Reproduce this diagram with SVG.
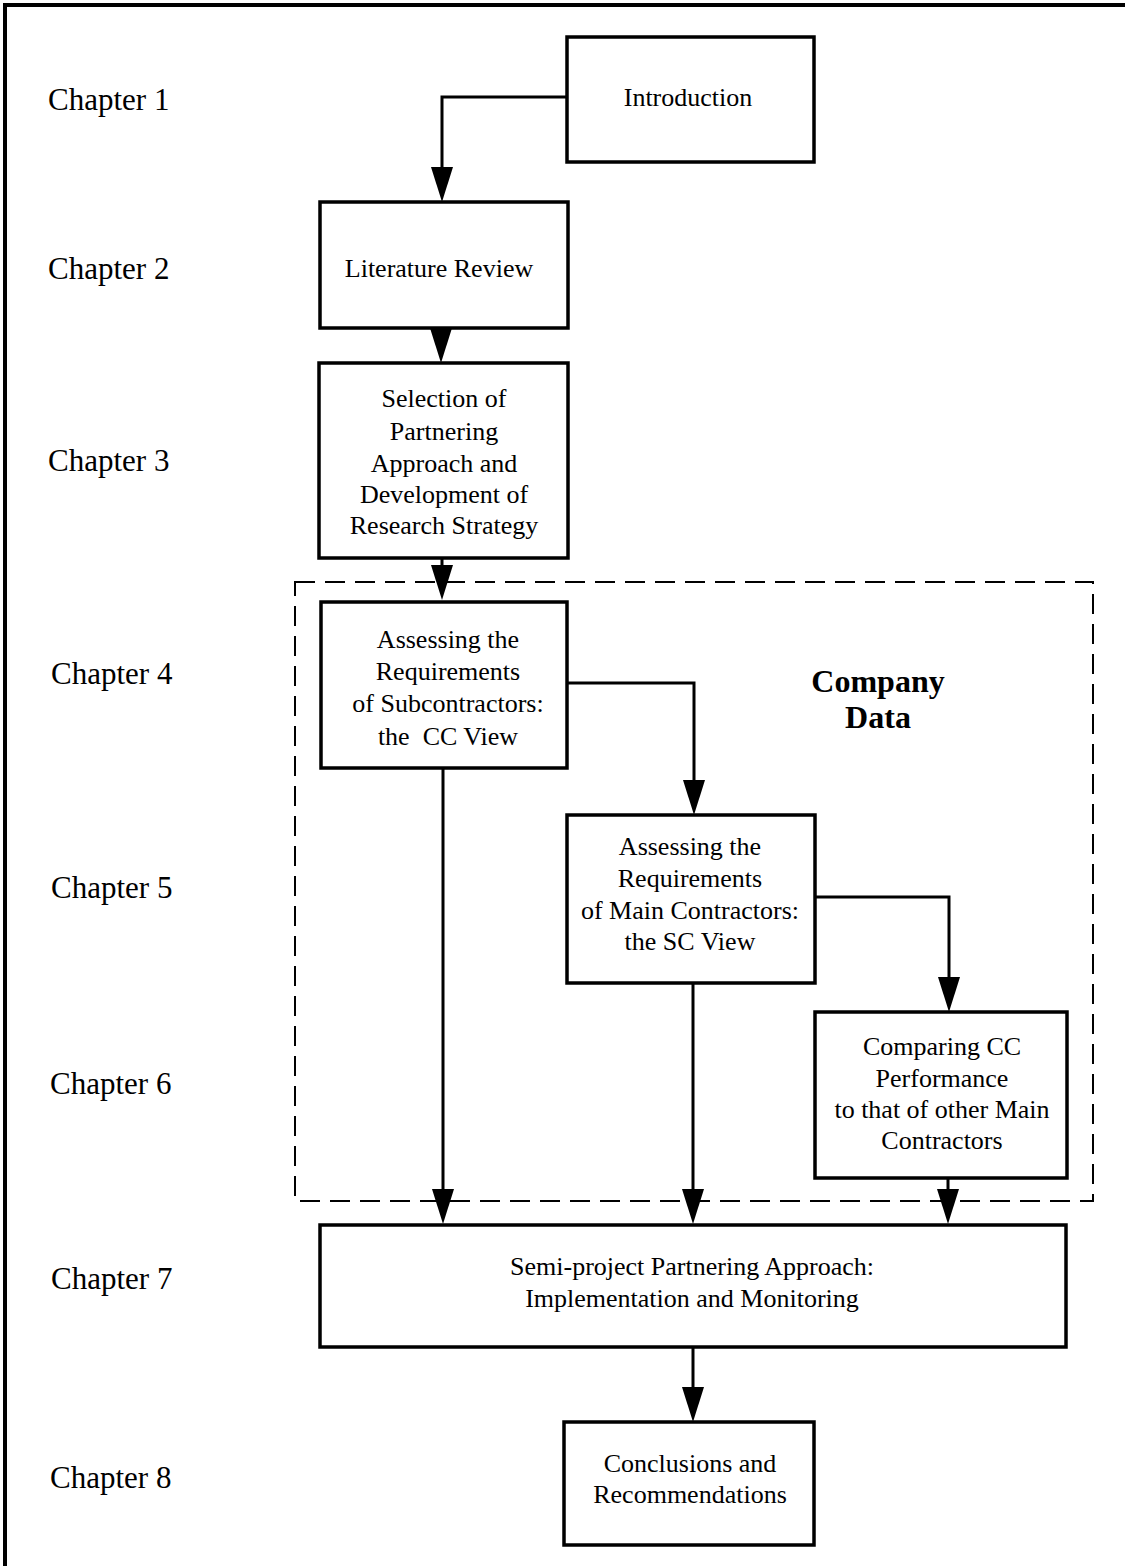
<svg xmlns="http://www.w3.org/2000/svg" width="1125" height="1566" viewBox="0 0 1125 1566">
  <style>
    .box { fill: #fff; stroke: #000; stroke-width: 3.5; }
    .lbl { font-family: "Liberation Serif", "Times New Roman", serif; font-size: 31px; fill: #000; }
    .txt { font-family: "Liberation Serif", "Times New Roman", serif; font-size: 26px; fill: #000; text-anchor: middle; }
    .bold { font-family: "Liberation Serif", "Times New Roman", serif; font-size: 32px; font-weight: bold; fill: #000; text-anchor: middle; }
    .wire { fill: none; stroke: #000; stroke-width: 3; }
    .frame { fill: none; stroke: #000; stroke-width: 4; }
    .dash { fill: none; stroke: #000; stroke-width: 2; stroke-dasharray: 20 10; }
    .head { fill: #000; }
  </style>
  <defs>
    <!-- downward arrowhead, tip at origin -->
    <path id="ah" class="head" d="M-11,-35 L11,-35 L0,0 Z"/>
  </defs>
  <rect width="1125" height="1566" fill="#fff"/>

  <!-- page frame -->
  <path class="frame" d="M5,1566 L5,5 L1125,5"/>

  <!-- chapter labels -->
  <g id="chapters">
    <text class="lbl" x="48" y="110">Chapter 1</text>
    <text class="lbl" x="48" y="279">Chapter 2</text>
    <text class="lbl" x="48" y="471">Chapter 3</text>
    <text class="lbl" x="51" y="684">Chapter 4</text>
    <text class="lbl" x="51" y="898">Chapter 5</text>
    <text class="lbl" x="50" y="1094">Chapter 6</text>
    <text class="lbl" x="51" y="1289">Chapter 7</text>
    <text class="lbl" x="50" y="1488">Chapter 8</text>
  </g>

  <!-- company data grouping -->
  <g id="company-data">
    <rect class="dash" x="295" y="582" width="798" height="619"/>
    <text class="bold" x="878" y="692">Company</text>
    <text class="bold" x="878" y="728">Data</text>
  </g>

  <!-- connectors -->
  <g id="connectors">
    <path class="wire" d="M567,97 L442,97 L442,168"/>
    <use href="#ah" x="442" y="202"/>
    <use href="#ah" x="441" y="363"/>
    <path class="wire" d="M442,558 L442,566"/>
    <use href="#ah" x="442" y="600"/>
    <path class="wire" d="M567,683 L694,683 L694,781"/>
    <use href="#ah" x="694" y="815"/>
    <path class="wire" d="M815,897 L949,897 L949,978"/>
    <use href="#ah" x="949" y="1012"/>
    <path class="wire" d="M443,768 L443,1190"/>
    <use href="#ah" x="443" y="1224"/>
    <path class="wire" d="M693,983 L693,1190"/>
    <use href="#ah" x="693" y="1224"/>
    <path class="wire" d="M948,1178 L948,1190"/>
    <use href="#ah" x="948" y="1224"/>
    <path class="wire" d="M693,1347 L693,1388"/>
    <use href="#ah" x="693" y="1422"/>
  </g>

  <g id="introduction">
    <rect class="box" x="567" y="37" width="247" height="125"/>
    <text class="txt" x="688" y="106">Introduction</text>
  </g>

  <g id="literature-review">
    <rect class="box" x="320" y="202" width="248" height="126"/>
    <text class="txt" x="439" y="277">Literature Review</text>
  </g>

  <g id="selection">
    <rect class="box" x="319" y="363" width="249" height="195"/>
    <text class="txt" x="444" y="407">Selection of</text>
    <text class="txt" x="444" y="440">Partnering</text>
    <text class="txt" x="444" y="472">Approach and</text>
    <text class="txt" x="444" y="503">Development of</text>
    <text class="txt" x="444" y="534">Research Strategy</text>
  </g>

  <g id="cc-view">
    <rect class="box" x="321" y="602" width="246" height="166"/>
    <text class="txt" x="448" y="648">Assessing the</text>
    <text class="txt" x="448" y="680">Requirements</text>
    <text class="txt" x="448" y="712">of Subcontractors:</text>
    <text class="txt" x="448" y="745" xml:space="preserve">the  CC View</text>
  </g>

  <g id="sc-view">
    <rect class="box" x="567" y="815" width="248" height="168"/>
    <text class="txt" x="690" y="855">Assessing the</text>
    <text class="txt" x="690" y="887">Requirements</text>
    <text class="txt" x="690" y="919">of Main Contractors:</text>
    <text class="txt" x="690" y="950">the SC View</text>
  </g>

  <g id="comparing">
    <rect class="box" x="815" y="1012" width="252" height="166"/>
    <text class="txt" x="942" y="1055">Comparing CC</text>
    <text class="txt" x="942" y="1087">Performance</text>
    <text class="txt" x="942" y="1118">to that of other Main</text>
    <text class="txt" x="942" y="1149">Contractors</text>
  </g>

  <g id="semi-project">
    <rect class="box" x="320" y="1225" width="746" height="122"/>
    <text class="txt" x="692" y="1275">Semi-project Partnering Approach:</text>
    <text class="txt" x="692" y="1307">Implementation and Monitoring</text>
  </g>

  <g id="conclusions">
    <rect class="box" x="564" y="1422" width="250" height="123"/>
    <text class="txt" x="690" y="1472">Conclusions and</text>
    <text class="txt" x="690" y="1503">Recommendations</text>
  </g>
</svg>
